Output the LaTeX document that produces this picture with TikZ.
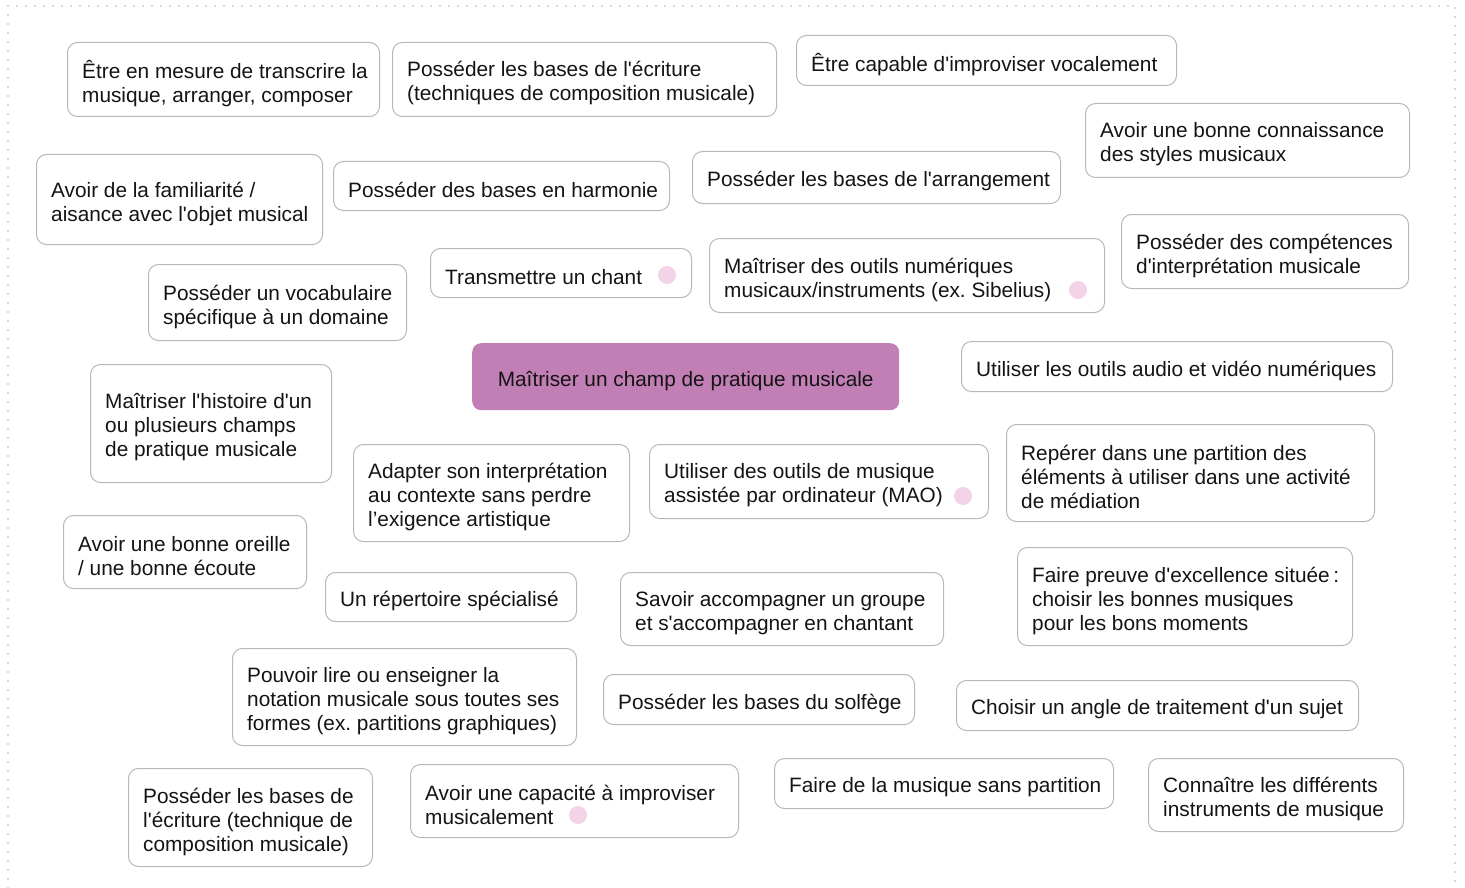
\documentclass[tikz,border=0pt]{standalone}
\usepackage{fontspec}
\setmainfont{Liberation Sans}[Ligatures=TeXOff]
\frenchspacing
\definecolor{bordergray}{HTML}{B8B8B8}
\definecolor{dotgray}{HTML}{B0B0B0}
\definecolor{textc}{HTML}{141414}
\definecolor{centralfill}{HTML}{C27FB5}
\definecolor{pinkdot}{HTML}{F3D3E8}
\tikzset{
  box/.style={draw=bordergray, line width=1pt, rounded corners=10pt, fill=white,
    anchor=north west, inner sep=0pt},
  label/.style={anchor=west, inner sep=0pt, align=left,
    font=\fontsize{20.8}{24}\selectfont, text=textc},
  central/.style={fill=centralfill, rounded corners=9pt, anchor=north west, inner sep=0pt},
  clabel/.style={inner sep=0pt, align=center, font=\fontsize{20.8}{24}\selectfont, text=textc},
  pdot/.style={circle, fill=pinkdot, minimum size=18pt, inner sep=0pt},
  frame/.style={draw=dotgray, line width=1.8pt, line cap=round, dash pattern=on 0pt off 9pt}
}
\newcommand\bx[6]{%
  \pgfmathsetmacro\mybw{#4-#2}\pgfmathsetmacro\mybh{#5-#3}%
  \node[box, minimum width=\mybw pt, minimum height=\mybh pt] (#1) at (#2,-#3) {};
  \node[label] (#1t) at ([xshift=15pt,yshift=-4pt]#1.west) {#6};}
\begin{document}
\begin{tikzpicture}[x=1pt,y=1pt]
\useasboundingbox (0,0) rectangle (1465,-888);
\draw[frame] (8,-888) -- (8,-6) -- (1455,-6) -- (1455,-888);

\bx{b1}{67}{42}{379}{116}{Être en mesure de transcrire la\\musique, arranger, composer}
\bx{b2}{392}{42}{776}{116}{Posséder les bases de l'écriture\\(techniques de composition musicale)}
\bx{b3}{796}{35}{1176}{85}{Être capable d'improviser vocalement}
\bx{b4}{1085}{103}{1409}{177}{Avoir une bonne connaissance\\des styles musicaux}
\bx{b5}{36}{154}{322}{244}{Avoir de la familiarité /\\aisance avec l'objet musical}
\bx{b6}{333}{161}{669}{210}{Posséder des bases en harmonie}
\bx{b7}{692}{151}{1060}{203}{Posséder les bases de l'arrangement}
\bx{b8}{1121}{214}{1408}{288}{Posséder des compétences\\d'interprétation musicale}
\bx{b9}{430}{248}{691}{297}{Transmettre un chant}
\bx{b10}{709}{238}{1104}{312}{Maîtriser des outils numériques\\musicaux/instruments (ex. Sibelius)}
\bx{b11}{148}{264}{406}{340}{Posséder un vocabulaire\\spécifique à un domaine}
\node[central, minimum width=427pt, minimum height=67pt] (c) at (472,-343) {};
\node[clabel] (ct) at ([yshift=-4pt]c.center) {Maîtriser un champ de pratique musicale};
\bx{b13}{961}{341}{1392}{391}{Utiliser les outils audio et vidéo numériques}
\bx{b14}{90}{364}{331}{482}{Maîtriser l'histoire d'un\\ou plusieurs champs\\de pratique musicale}
\bx{b15}{353}{444}{629}{541}{Adapter son interprétation\\au contexte sans perdre\\l’exigence artistique}
\bx{b16}{649}{444}{988}{518}{Utiliser des outils de musique\\assistée par ordinateur (MAO)}
\bx{b17}{1006}{424}{1374}{521}{Repérer dans une partition des\\éléments à utiliser dans une activité\\de médiation}
\bx{b18}{63}{515}{306}{588}{Avoir une bonne oreille\\/ une bonne écoute}
\bx{b19}{325}{572}{576}{621}{Un répertoire spécialisé}
\bx{b20}{620}{572}{943}{645}{Savoir accompagner un groupe\\et s'accompagner en chantant}
\bx{b21}{1017}{547}{1352}{645}{Faire preuve d'excellence située\,:\\choisir les bonnes musiques\\pour les bons moments}
\bx{b22}{232}{648}{576}{745}{Pouvoir lire ou enseigner la\\notation musicale sous toutes ses\\formes (ex. partitions graphiques)}
\bx{b23}{603}{674}{914}{724}{Posséder les bases du solfège}
\bx{b24}{956}{680}{1358}{730}{Choisir un angle de traitement d'un sujet}
\bx{b25}{128}{768}{372}{866}{Posséder les bases de\\l'écriture (technique de\\composition musicale)}
\bx{b26}{410}{764}{738}{837}{Avoir une capacité à improviser\\musicalement}
\bx{b27}{774}{758}{1113}{808}{Faire de la musique sans partition}
\bx{b28}{1148}{758}{1403}{831}{Connaître les différents\\instruments de musique}

\node[pdot] (d9) at (667,-275) {};
\node[pdot] (d10) at (1078,-290) {};
\node[pdot] (d16) at (963,-496) {};
\node[pdot] (d26) at (578,-815) {};
\end{tikzpicture}
\end{document}
